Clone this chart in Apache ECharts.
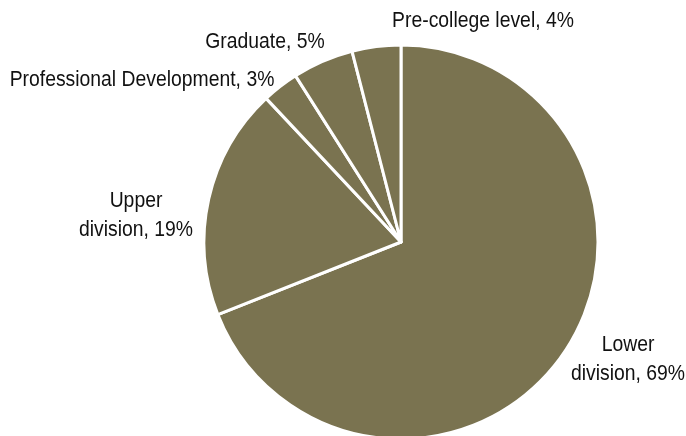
<!DOCTYPE html>
<html>
<head>
<meta charset="utf-8">
<script src="https://cdn.jsdelivr.net/npm/echarts@6/dist/echarts.min.js"></script>
<style>
  html, body { margin: 0; padding: 0; background: #fff; }
  #chart { width: 686px; height: 436px; }
</style>
</head>
<body>
<div id="chart"></div>
<script>
// Share of enrolment by course level
const categories = ['Lower\ndivision', 'Upper\ndivision', 'Professional Development', 'Graduate', 'Pre-college level'];
const shares = [69, 19, 3, 5, 4];

// Label anchor points (centre of each label block), in pixels
const labelAnchors = [
  [628, 359],
  [136, 215],
  [142, 80],
  [265, 42],
  [483, 21]
];

const chart = echarts.init(document.getElementById('chart'), null, { renderer: 'canvas' });

// Narrow-looking labels: a regular sans squeezed horizontally
const labelGraphics = categories.map((name, i) => ({
  type: 'text',
  x: labelAnchors[i][0],
  y: labelAnchors[i][1],
  scaleX: 0.88,
  silent: true,
  style: {
    text: name + ', ' + shares[i] + '%',
    font: '22px "Liberation Sans", Arial, sans-serif',
    lineHeight: 29,
    fill: '#111111',
    align: 'center',
    verticalAlign: 'middle'
  }
}));

chart.setOption({
  animation: false,
  graphic: labelGraphics,
  series: [{
    type: 'pie',
    center: [401, 242],
    radius: 197,
    startAngle: 90,
    clockwise: true,
    data: categories.map((name, i) => ({ name, value: shares[i] })),
    itemStyle: { color: '#7a7350', borderColor: '#ffffff', borderWidth: 3 },
    emphasis: { disabled: true },
    label: { show: false },
    labelLine: { show: false }
  }]
});
</script>
</body>
</html>
